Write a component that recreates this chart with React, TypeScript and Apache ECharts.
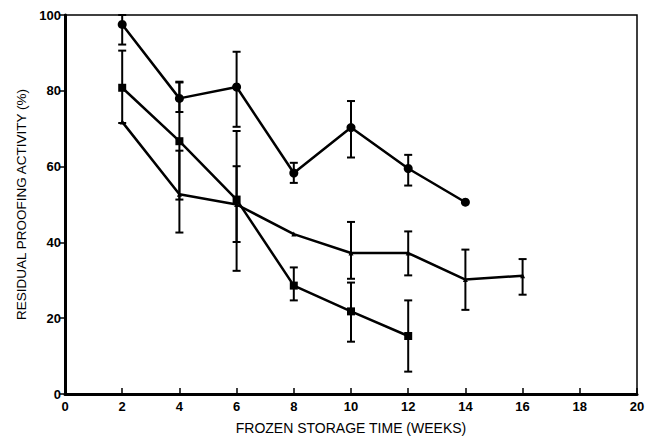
import React, { useEffect, useRef } from "react";
import * as echarts from "echarts";

// Circle series
const circleX = [2, 4, 6, 8, 10, 12, 14];
const circleY = [97.5, 78, 81, 58.3, 70.3, 59.5, 50.6];
const circleLow = [92.2, 74.4, 70.5, 55.7, 62.4, 55, null];
const circleHigh = [100, 82.4, 90.3, 61, 77.3, 63.1, null];

// Square series
const squareX = [2, 4, 6, 8, 10, 12];
const squareY = [80.8, 66.7, 51.3, 28.6, 21.8, 15.3];
const squareLow = [71.5, 51.3, 32.5, 24.7, 13.8, 5.9];
const squareHigh = [90.6, 82.2, 69.4, 33.4, 29.4, 24.7];

// Triangle series
const triX = [2, 4, 6, 8, 10, 12, 14, 16];
const triY = [71.8, 52.7, 50, 42.2, 37.2, 37.2, 30.2, 31.2];
const triLow = [null, 42.6, 40.1, null, 30.4, 31.3, 22.2, 26.2];
const triHigh = [null, 64.2, 60.1, null, 45.4, 42.9, 38.1, 35.6];

const xTicks = [0, 2, 4, 6, 8, 10, 12, 14, 16, 18, 20];
const yTicks = [0, 20, 40, 60, 80, 100];

function pairs(xs: number[], ys: number[]) {
  return xs.map((x, i) => [x, ys[i]]);
}
function errs(xs: number[], lo: (number | null)[], hi: (number | null)[]) {
  const out: number[][] = [];
  xs.forEach((x, i) => {
    if (lo[i] != null && hi[i] != null) out.push([x, lo[i] as number, hi[i] as number]);
  });
  return out;
}

const errorRender = (params: any, api: any) => {
  const x = api.value(0);
  const lo = api.coord([x, api.value(1)]);
  const hi = api.coord([x, api.value(2)]);
  const cap = 4;
  const style = { stroke: "#000", lineWidth: 2 };
  return {
    type: "group",
    children: [
      { type: "line", shape: { x1: lo[0], y1: lo[1], x2: hi[0], y2: hi[1] }, style },
      { type: "line", shape: { x1: lo[0] - cap, y1: lo[1], x2: lo[0] + cap, y2: lo[1] }, style },
      { type: "line", shape: { x1: hi[0] - cap, y1: hi[1], x2: hi[0] + cap, y2: hi[1] }, style },
    ],
  };
};

export default function App() {
  const ref = useRef<HTMLDivElement>(null);
  useEffect(() => {
    if (!ref.current) return;
    const chart = echarts.init(ref.current, undefined, { renderer: "svg" });
    const lineStyle = { color: "#000", width: 2.5 };
    chart.setOption({
      animation: false,
      backgroundColor: "#fff",
      grid: {
        left: 65,
        right: 17,
        top: 15,
        bottom: 42,
        show: true,
        borderColor: "#000",
        borderWidth: 1.5,
        containLabel: false,
        outerBoundsMode: "none",
      },
      xAxis: {
        type: "value",
        min: 0,
        max: 20,
        interval: 2,
        name: "FROZEN STORAGE TIME (WEEKS)",
        nameLocation: "middle",
        nameGap: 27,
        nameTextStyle: { fontFamily: "Liberation Sans", fontSize: 14, lineHeight: 14, color: "#000" },
        axisLine: { lineStyle: { color: "#000", width: 3 } },
        axisTick: { inside: true, length: 6, lineStyle: { color: "#000", width: 1.5 } },
        axisLabel: {
          margin: 6,
          fontFamily: "Liberation Sans",
          fontWeight: "bold",
          fontSize: 13,
          color: "#000",
          formatter: (v: number) => (xTicks.includes(v) ? String(v) : ""),
        },
        splitLine: { show: false },
      },
      yAxis: {
        type: "value",
        min: 0,
        max: 100,
        interval: 20,
        name: "RESIDUAL PROOFING ACTIVITY (%)",
        nameLocation: "middle",
        nameGap: 30,
        nameTextStyle: { fontFamily: "Liberation Sans", fontSize: 13.5, color: "#000" },
        axisLine: { show: true, lineStyle: { color: "#000", width: 3 } },
        axisTick: { show: true, inside: false, length: 5, lineStyle: { color: "#000", width: 1.5 } },
        axisLabel: {
          margin: 4,
          fontFamily: "Liberation Sans",
          fontWeight: "bold",
          fontSize: 13,
          color: "#000",
          formatter: (v: number) => (yTicks.includes(v) ? String(v) : ""),
        },
        splitLine: { show: false },
      },
      series: [
        {
          type: "line",
          data: pairs(circleX, circleY),
          symbol: "circle",
          symbolSize: 9,
          itemStyle: { color: "#000" },
          lineStyle,
        },
        {
          type: "line",
          data: pairs(squareX, squareY),
          symbol: "rect",
          symbolSize: 8,
          itemStyle: { color: "#000" },
          lineStyle,
        },
        {
          type: "line",
          data: pairs(triX, triY),
          symbol: "triangle",
          symbolSize: 5,
          itemStyle: { color: "#000" },
          lineStyle,
        },
        { type: "custom", renderItem: errorRender, data: errs(circleX, circleLow, circleHigh), z: 3 },
        { type: "custom", renderItem: errorRender, data: errs(squareX, squareLow, squareHigh), z: 3 },
        { type: "custom", renderItem: errorRender, data: errs(triX, triLow, triHigh), z: 3 },
      ],
    });
    return () => chart.dispose();
  }, []);
  return <div ref={ref} style={{ width: 654, height: 436, position: "absolute", left: 0, top: 0 }} />;
}
